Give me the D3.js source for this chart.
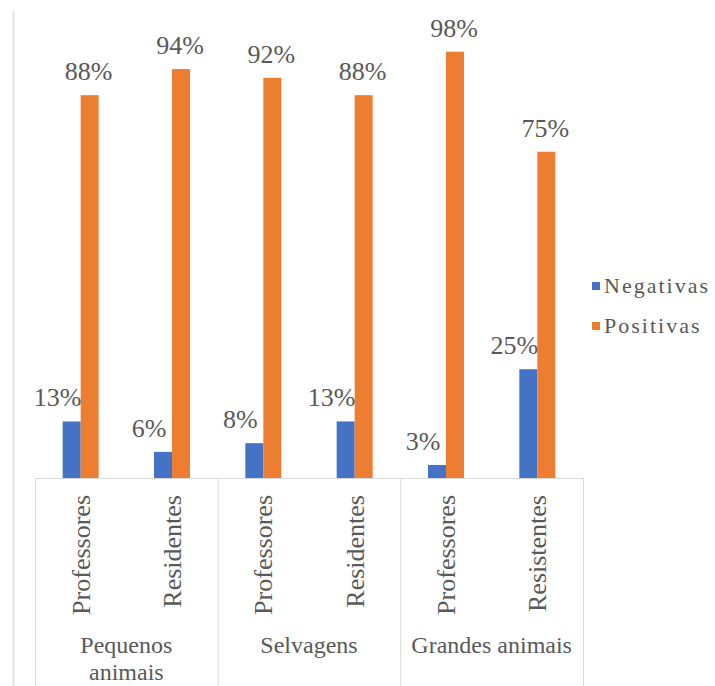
<!DOCTYPE html>
<html>
<head>
<meta charset="utf-8">
<script src="https://cdn.jsdelivr.net/npm/d3@7"></script>
<style>
  html, body { margin: 0; padding: 0; background: #fff; }
  svg { display: block; }
</style>
</head>
<body>
<div id="chart"></div>
<script>
// ===============================
// DADOS
// ===============================
const grupos = ['Pequenos animais', 'Selvagens', 'Grandes animais'];
const subgrupos = ['Professores', 'Residentes', 'Professores', 'Residentes', 'Professores', 'Resistentes'];
const series = ['Negativas', 'Positivas'];
const negativas = [13, 6, 8, 13, 3, 25];
const positivas = [88, 94, 92, 88, 98, 75];

const cores = { Negativas: '#4472C4', Positivas: '#ED7D31' };
const texto = '#595959';
const linha = '#d9d9d9';
const fonte = "'Liberation Serif', 'Times New Roman', Times, 'DejaVu Serif', serif";

// ===============================
// SVG E ESCALAS
// ===============================
const width = 715;
const height = 686;
const base = 478;

const svg = d3.select('#chart')
  .append('svg')
  .attr('width', width)
  .attr('height', height)
  .attr('font-family', fonte);

const idx = d3.range(subgrupos.length);

const x0 = d3.scaleBand()
  .domain(idx)
  .range([35, 583])
  .padding(0);

const cw = x0.bandwidth();
const x1 = d3.scaleBand()
  .domain(series)
  .range([cw / 2 - 18, cw / 2 + 18]);

const xg = d3.scaleBand()
  .domain(grupos)
  .range([35, 583]);

const y = d3.scaleLinear()
  .domain([0, 100])
  .range([base, 43]);

// borda esquerda
svg.append('line')
  .attr('x1', 13.5).attr('x2', 13.5)
  .attr('y1', 11).attr('y2', height)
  .attr('stroke', '#e3e3e3')
  .attr('stroke-width', 2);

// ===============================
// BARRAS
// ===============================
const dados = idx.map(i => ({ i, Negativas: negativas[i], Positivas: positivas[i] }));

const cat = svg.append('g')
  .selectAll('g')
  .data(dados)
  .enter()
  .append('g')
  .attr('transform', d => `translate(${x0(d.i)},0)`);

cat.selectAll('rect')
  .data(d => series.map(s => ({ s, v: d[s] })))
  .enter()
  .append('rect')
  .attr('x', d => x1(d.s))
  .attr('y', d => y(d.v))
  .attr('width', x1.bandwidth())
  .attr('height', d => base - y(d.v))
  .attr('fill', d => cores[d.s]);

// rótulos de dados
cat.selectAll('text.rotulo')
  .data(d => series.map(s => ({ s, v: d[s] })))
  .enter()
  .append('text')
  .attr('class', 'rotulo')
  .attr('x', d => x1(d.s) + x1.bandwidth() / 2 + (d.s === 'Negativas' ? -14 : -1))
  .attr('y', d => y(d.v) - 15)
  .attr('text-anchor', 'middle')
  .attr('font-size', 26)
  .attr('fill', texto)
  .text(d => d.v + '%');

// ===============================
// EIXO DE CATEGORIAS
// ===============================
const eixo = svg.append('g');

eixo.append('line')
  .attr('x1', 35).attr('x2', 583)
  .attr('y1', base + 0.5).attr('y2', base + 0.5)
  .attr('stroke', linha);

eixo.selectAll('line.div')
  .data(grupos.map(g => xg(g)).concat([583]))
  .enter()
  .append('line')
  .attr('class', 'div')
  .attr('x1', d => d + 0.5).attr('x2', d => d + 0.5)
  .attr('y1', base).attr('y2', height)
  .attr('stroke', linha);

eixo.selectAll('text.sub')
  .data(idx)
  .enter()
  .append('text')
  .attr('class', 'sub')
  .attr('transform', i => `translate(${x0(i) + cw / 2},${base + 17}) rotate(-90)`)
  .attr('dy', '0.35em')
  .attr('text-anchor', 'end')
  .attr('font-size', 26)
  .attr('fill', texto)
  .text(i => subgrupos[i]);

// nomes dos grupos (quebra de linha se não couber)
eixo.selectAll('text.grupo')
  .data(grupos)
  .enter()
  .append('text')
  .attr('class', 'grupo')
  .attr('x', g => xg(g) + xg.bandwidth() / 2)
  .attr('y', 653)
  .attr('text-anchor', 'middle')
  .attr('font-size', 24)
  .attr('fill', texto)
  .each(function (g) {
    const t = d3.select(this);
    const palavras = g.split(' ');
    let lin = [];
    let ts = t.append('tspan').attr('x', t.attr('x'));
    palavras.forEach(p => {
      lin.push(p);
      ts.text(lin.join(' '));
      if (ts.node().getComputedTextLength() > xg.bandwidth() - 12 && lin.length > 1) {
        lin.pop();
        ts.text(lin.join(' '));
        lin = [p];
        ts = t.append('tspan').attr('x', t.attr('x')).attr('dy', 27).text(p);
      }
    });
  });

// ===============================
// LEGENDA
// ===============================
const leg = svg.append('g')
  .selectAll('g')
  .data(series)
  .enter()
  .append('g')
  .attr('transform', (d, i) => `translate(592,${286 + i * 40})`);

leg.append('rect')
  .attr('x', 0).attr('y', -4)
  .attr('width', 8).attr('height', 8)
  .attr('fill', d => cores[d]);

leg.append('text')
  .attr('x', 12)
  .attr('y', 7)
  .attr('font-size', 22)
  .attr('letter-spacing', 2)
  .attr('fill', texto)
  .text(d => d);
</script>
</body>
</html>
